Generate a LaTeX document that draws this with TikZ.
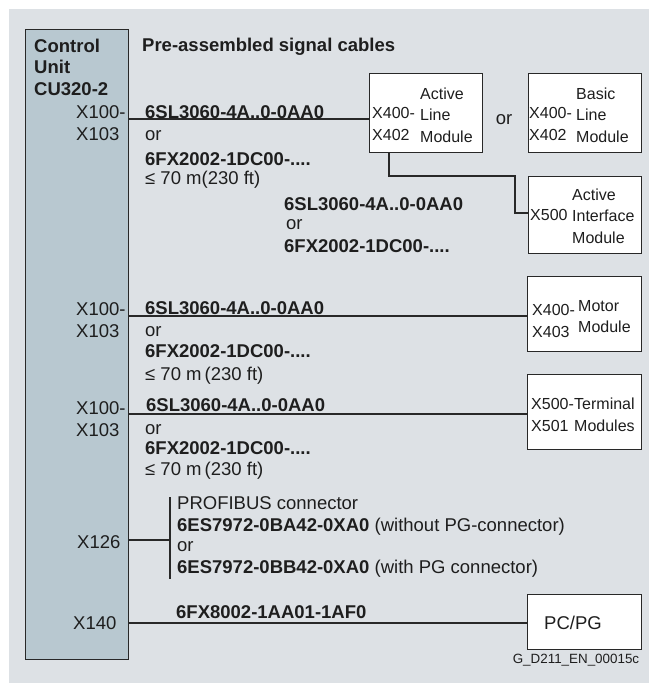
\documentclass[tikz,border=0pt]{standalone}
\usepackage{fontspec}
\setmainfont{Liberation Sans}
\usepackage{xcolor}
\usetikzlibrary{positioning, calc}

\definecolor{bggray}{RGB}{221,225,229}
\definecolor{cufill}{RGB}{184,200,208}
\definecolor{linegray}{RGB}{40,40,40}
\definecolor{textgray}{RGB}{30,30,30}

\tikzset{
  txt/.style={anchor=base west, inner sep=0pt, text=textgray, font=\fontsize{18.5}{21.5}\selectfont},
  btxt/.style={txt, font=\bfseries\fontsize{18.5}{21.5}\selectfont},
  porttxt/.style={anchor=west, inner sep=0pt, align=left, text=textgray, font=\fontsize{18.5}{22}\selectfont},
  modtxt/.style={anchor=west, inner sep=0pt, align=left, text=textgray, font=\fontsize{16}{21.5}\selectfont},
  modbox/.style={draw=linegray, fill=white, line width=1pt, inner sep=0pt},
  cable/.style={draw=linegray, line width=2.8pt}
}

\begin{document}
\begin{tikzpicture}[x=1pt, y=-1pt]

\useasboundingbox (0,0) rectangle (649,683);

% Background
\fill[bggray] (9,9) rectangle (649,683);

% Control unit
\node[draw=linegray, fill=cufill, line width=1pt, minimum width=103pt, minimum height=630pt, inner sep=0pt] (cu) at (76.5,344) {};
\node[anchor=north west, inner sep=0pt, align=left, text=textgray, font=\bfseries\fontsize{18.5}{21.5}\selectfont]
    (cutitle) at (34,38.5) {Control\\Unit\\CU320-2};

% Title
\node[btxt] (hdr) at (142,51.5) {Pre-assembled signal cables};

% Modules
\node[modbox, minimum width=113pt, minimum height=79pt] (alm) at (425.5,112.5) {};
\node[modbox, minimum width=113pt, minimum height=79pt] (blm) at (584.5,112.5) {};
\node[modbox, minimum width=113pt, minimum height=77pt] (aim) at (584.5,214.5) {};
\node[modbox, minimum width=114pt, minimum height=75pt] (mm) at (584,313.5) {};
\node[modbox, minimum width=114pt, minimum height=75pt] (tm) at (584,411.5) {};
\node[modbox, minimum width=114pt, minimum height=55pt] (pc) at (584,621.5) {};

\node[modtxt] (almport) at (372,124) {X400-\\X402};
\node[modtxt] (almname) at (420,115) {Active\\Line\\Module};
\node[txt, anchor=center] (ortop) at (504,120) {or};
\node[modtxt] (blmport) at (529,124) {X400-\\X402};
\node[modtxt] (blmname) at (576,115) {Basic\\Line\\Module};
\node[modtxt] (aimport) at (530,215) {X500};
\node[modtxt] (aimname) at (572,216) {Active\\Interface\\Module};
\node[modtxt] (mmport) at (532,321) {X400-\\X403};
\node[modtxt] (mmname) at (578,316.5) {Motor\\Module};
\node[modtxt] (tmport) at (531,415) {X500-\\X501};
\node[modtxt] (tmname) at (574,415) {Terminal\\Modules};
\node[txt, anchor=center] (pcname) at (573,623) {PC/PG};
\node[anchor=center, inner sep=0pt, text=textgray, font=\fontsize{13.4}{15}\selectfont]
    (fig) at (576,660) {G\_D211\_EN\_00015c};

% Ports on the control unit
\node[porttxt] (x1) at (76,123) {X100-\\X103};
\node[porttxt] (x2) at (76,320) {X100-\\X103};
\node[porttxt] (x3) at (76,419) {X100-\\X103};
\node[porttxt] (x126) at (77,542) {X126};
\node[porttxt] (x140) at (73,623) {X140};

\coordinate (p1) at (cu.east |- 0,119);
\coordinate (p2) at (cu.east |- 0,316);
\coordinate (p3) at (cu.east |- 0,414);
\coordinate (p4) at (cu.east |- 0,540);
\coordinate (p5) at (cu.east |- 0,623);
\coordinate (bartop) at (170,497);
\coordinate (barbot) at (170,579);
\coordinate (almout) at (alm.south -| 389,0);
\coordinate (aimin) at (aim.west |- 0,213);

% Cables
\draw[cable] (p1) -- (p1 -| alm.west);
\draw[cable] (almout) |- (515,176) |- (aimin);
\draw[cable] (p2) -- (p2 -| mm.west);
\draw[cable] (p3) -- (p3 -| tm.west);
\draw[cable] (p4) -- (p4 -| bartop);
\draw[cable] (bartop) -- (barbot);
\draw[cable] (p5) -- (p5 -| pc.west);

% Cable labels
\node[btxt] (c1code) at (145,118.5) {6SL3060-4A..0-0AA0};
\node[txt] (c1or) at (145,140) {or};
\node[btxt] (c1alt) at (145,165.5) {6FX2002-1DC00-....};
\node[txt] (c1len) at (145,184.5) {≤ 70 m(230 ft)};

\node[btxt] (c2code) at (284,210.5) {6SL3060-4A..0-0AA0};
\node[txt] (c2or) at (286,229.5) {or};
\node[btxt] (c2alt) at (284,252) {6FX2002-1DC00-....};

\node[btxt] (c3code) at (145,314) {6SL3060-4A..0-0AA0};
\node[txt] (c3or) at (145,336) {or};
\node[btxt] (c3alt) at (145,357.5) {6FX2002-1DC00-....};
\node[txt] (c3len) at (145,380.5) {≤ 70 m\,(230 ft)};

\node[btxt] (c4code) at (146,411.5) {6SL3060-4A..0-0AA0};
\node[txt] (c4or) at (145,434) {or};
\node[btxt] (c4alt) at (145,454.5) {6FX2002-1DC00-....};
\node[txt] (c4len) at (145,475.5) {≤ 70 m\,(230 ft)};

\node[txt] (pbhead) at (177,509.5) {PROFIBUS connector};
\node[txt] (pbwo) at (177,531.5) {\textbf{6ES7972-0BA42-0XA0} (without PG-connector)};
\node[txt] (pbor) at (177,551) {or};
\node[txt] (pbwi) at (177,573.5) {\textbf{6ES7972-0BB42-0XA0} (with PG connector)};

\node[btxt] (c5code) at (176,618.5) {6FX8002-1AA01-1AF0};

\end{tikzpicture}
\end{document}
